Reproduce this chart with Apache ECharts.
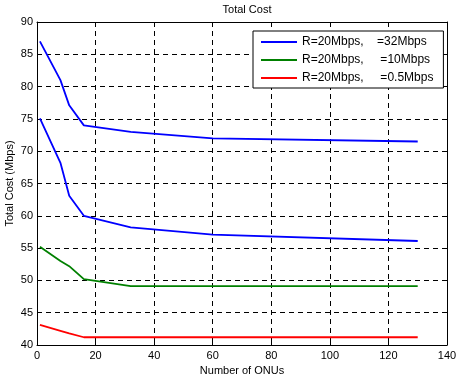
<!DOCTYPE html>
<html><head><meta charset="utf-8">
<script src="https://cdn.jsdelivr.net/npm/echarts@6/dist/echarts.min.js"></script>
<style>html,body{margin:0;padding:0;background:#fff}#c{width:458px;height:374px}</style>
</head><body><div id="c"></div>
<script>
var onus = [1, 8, 11, 16, 32, 60, 130];
var blueHigh = [87, 81, 77.1, 74, 73, 72, 71.5];
var blueLow = [75.1, 68.2, 63.1, 60, 58.2, 57.1, 56.1];
var green = [55.2, 53, 52.2, 50.2, 49.1, 49.1, 49.1];
var red = [43.1, 42.2, 41.8, 41.2, 41.2, 41.2, 41.2];
var names = ['R=20Mbps,    =32Mbps', 'R=20Mbps,     =10Mbps', 'R=20Mbps,     =0.5Mbps'];
var xTicks = [0, 20, 40, 60, 80, 100, 120, 140];
var yTicks = [40, 45, 50, 55, 60, 65, 70, 75, 80, 85, 90];

function pairs(ys){ return onus.map(function(x,i){ return [x, ys[i]]; }); }
var font = 'Liberation Sans, Arial, sans-serif';
var chart = echarts.init(document.getElementById('c'));
var dashed = {show:true, lineStyle:{color:'#000', type:[5,4], width:1}};
function xAxis(pos, labels){
  return {type:'value', position:pos, min:0, max:140, interval:20,
    axisLine:{show:true, onZero:false, lineStyle:{color:'#000', width:1}},
    axisTick:{show:true, inside:true, length:5, lineStyle:{color:'#000'}},
    axisLabel:{show:labels, color:'#000', fontSize:11, fontFamily:font, margin:5},
    splitLine: labels ? dashed : {show:false},
    name: labels ? 'Number of ONUs' : '', nameLocation:'middle', nameGap:20,
    nameMoveOverlap:false,
    nameTextStyle:{color:'#000', fontSize:11, fontFamily:font}};
}
function yAxis(pos, labels){
  return {type:'value', position:pos, min:40, max:90, interval:5,
    axisLine:{show:true, onZero:false, lineStyle:{color:'#000', width:1}},
    axisTick:{show:true, inside:true, length:5, lineStyle:{color:'#000'}},
    axisLabel:{show:labels, color:'#000', fontSize:11, fontFamily:font, margin:4},
    splitLine: labels ? dashed : {show:false},
    name: labels ? 'Total Cost (Mbps)' : '', nameLocation:'middle', nameGap:22,
    nameMoveOverlap:false,
    nameTextStyle:{color:'#000', fontSize:11, fontFamily:font}};
}
function line(name, ys, color){
  return {name:name, type:'line', data:pairs(ys), showSymbol:false, symbol:'none',
    lineStyle:{color:color, width:1.8}, itemStyle:{color:color}, animation:false};
}
chart.setOption({
  animation:false,
  backgroundColor:'#fff',
  title:{text:'Total Cost', left:242, textAlign:'center', top:-1,
    textStyle:{fontSize:11, fontWeight:'normal', color:'#000', fontFamily:font}},
  grid:{left:37, right:11, top:22, bottom:29, containLabel:false, outerBoundsMode:'none'},
  legend:{show:true, left:253, top:31, orient:'vertical', icon:'rect',
    itemWidth:36, itemHeight:2, itemGap:6, padding:[5,10,4,8],
    backgroundColor:'#fff', borderColor:'#000', borderWidth:1, borderRadius:0,
    textStyle:{fontSize:12, color:'#000', fontFamily:font},
    data:[{name:names[0]},{name:names[1]},{name:names[2]}]},
  xAxis:[xAxis('bottom', true), xAxis('top', false)],
  yAxis:[yAxis('left', true), yAxis('right', false)],
  series:[
    line(names[0], blueHigh, '#0000ff'),
    line(names[0], blueLow, '#0000ff'),
    line(names[1], green, '#008000'),
    line(names[2], red, '#ff0000')
  ]
});
</script></body></html>
